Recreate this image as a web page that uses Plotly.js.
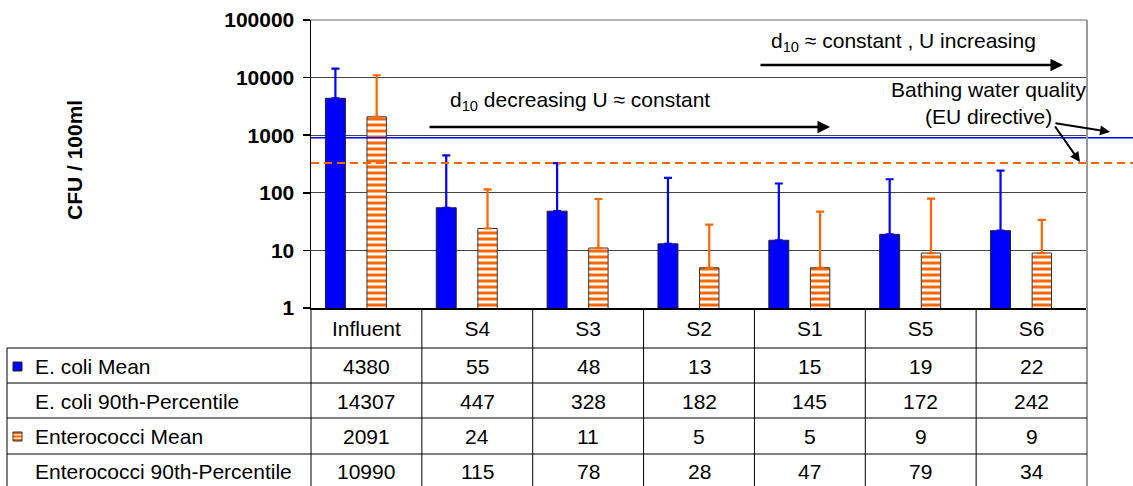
<!DOCTYPE html>
<html>
<head>
<meta charset="utf-8">
<script src="https://cdn.plot.ly/plotly-3.0.1.min.js"></script>
<style>
  html, body { margin: 0; padding: 0; background: #fff; }
  #chart { width: 1133px; height: 486px; }
</style>
</head>
<body>
<div id="chart"></div>
<script>
// sampling sites and measured bacteria counts (CFU / 100ml)
var categories = ['Influent', 'S4', 'S3', 'S2', 'S1', 'S5', 'S6'];
var ecoliMean = [4380, 55, 48, 13, 15, 19, 22];
var ecoliP90 = [14307, 447, 328, 182, 145, 172, 242];
var enteroMean = [2091, 24, 11, 5, 5, 9, 9];
var enteroP90 = [10990, 115, 78, 28, 47, 79, 34];

var yTicks = [1, 10, 100, 1000, 10000, 100000];
var rowLabels = ['E. coli Mean', 'E. coli 90th-Percentile', 'Enterococci Mean', 'Enterococci 90th-Percentile'];
var rowValues = [ecoliMean, ecoliP90, enteroMean, enteroP90];

// bathing water quality limits (EU directive)
var ecoliLimit = 900;
var enteroLimit = 330;

var W = 1133, H = 486;
var FONT = 'Liberation Sans, Arial, sans-serif';
var BLUE = '#0000ff', ORANGE = '#ff6600';

// pixel -> paper helpers for page layout
function px(x) { return x / W; }
function py(y) { return (H - y) / H; }

var plotLeft = 311, plotRight = 1087, plotTop = 20, plotBottom = 308;

var ecoli = {
  type: 'bar',
  name: 'E. coli Mean',
  x: categories,
  y: ecoliMean,
  width: 0.18,
  offset: -0.37,
  marker: { color: BLUE, line: { color: '#222', width: 1 } },
  error_y: {
    type: 'data', symmetric: false,
    array: ecoliP90.map(function (v, i) { return v - ecoliMean[i]; }),
    arrayminus: ecoliMean.map(function () { return 0; }),
    color: BLUE, thickness: 2.2, width: 4
  }
};

var entero = {
  type: 'bar',
  name: 'Enterococci Mean',
  x: categories,
  y: enteroMean,
  width: 0.175,
  offset: 0.005,
  marker: {
    color: ORANGE,
    line: { color: '#333', width: 1 },
    pattern: { shape: '-', fillmode: 'replace', fgcolor: ORANGE, bgcolor: '#ffffff', size: 6, solidity: 0.5 }
  },
  error_y: {
    type: 'data', symmetric: false,
    array: enteroP90.map(function (v, i) { return v - enteroMean[i]; }),
    arrayminus: enteroMean.map(function () { return 0; }),
    color: ORANGE, thickness: 2.2, width: 4
  }
};

var shapes = [];
var annotations = [];

function hline(y0px, x0px, x1px, color, width) {
  shapes.push({ type: 'line', xref: 'paper', yref: 'paper', x0: px(x0px), x1: px(x1px), y0: py(y0px), y1: py(y0px),
    line: { color: color, width: width } });
}
function vline(xpx, y0px, y1px, color, width) {
  shapes.push({ type: 'line', xref: 'paper', yref: 'paper', x0: px(xpx), x1: px(xpx), y0: py(y0px), y1: py(y1px),
    line: { color: color, width: width } });
}

// limit lines, running past the plot to the page edge
shapes.push({ type: 'line', xref: 'paper', yref: 'y', x0: px(plotLeft), x1: 1,
  y0: ecoliLimit, y1: ecoliLimit, line: { color: BLUE, width: 1.5 } });
shapes.push({ type: 'line', xref: 'paper', yref: 'y', x0: px(plotLeft), x1: 1,
  y0: enteroLimit, y1: enteroLimit, line: { color: ORANGE, width: 2, dash: '8px,5px' } });

// plot frame
hline(plotTop, plotLeft, plotRight, '#999', 1.5);
vline(plotRight, plotTop, H, '#999', 2);

// data table grid
var rowLines = [348, 383, 418, 454];
rowLines.forEach(function (y) { hline(y, 7, plotRight, '#000', 1); });
vline(7, 348, H, '#000', 1);
vline(plotLeft, plotBottom, H, '#000', 1);
for (var i = 0; i < categories.length - 1; i++) {
  shapes.push({ type: 'line', xref: 'x', yref: 'paper', x0: i + 0.5, x1: i + 0.5, y0: py(plotBottom), y1: 0,
    line: { color: '#000', width: 1 } });
}

// table cells
var cellFont = { family: FONT, size: 21, color: '#000' };
var rowCenters = [366, 401, 436, 471];
rowLabels.forEach(function (label, r) {
  annotations.push({ xref: 'paper', yref: 'paper', x: px(33), y: py(rowCenters[r]), xanchor: 'left', yanchor: 'middle',
    text: label, showarrow: false, font: cellFont });
  rowValues[r].forEach(function (v, c) {
    annotations.push({ xref: 'x', yref: 'paper', x: categories[c], y: py(rowCenters[r]), xanchor: 'center', yanchor: 'middle',
      text: String(v), showarrow: false, font: cellFont });
  });
});

// legend keys in the table
shapes.push({ type: 'rect', xref: 'paper', yref: 'paper', x0: px(13), x1: px(22), y0: py(371), y1: py(362),
  fillcolor: BLUE, line: { color: '#222', width: 1 } });
shapes.push({ type: 'rect', xref: 'paper', yref: 'paper', x0: px(13), x1: px(22), y0: py(441), y1: py(432),
  fillcolor: ORANGE, line: { color: '#333', width: 1 } });
[434.8, 438.2].forEach(function (y) {
  shapes.push({ type: 'line', xref: 'paper', yref: 'paper', x0: px(13.5), x1: px(21.5), y0: py(y), y1: py(y),
    line: { color: '#fff', width: 1.3 } });
});

// y axis title
annotations.push({ xref: 'paper', yref: 'paper', x: px(75), y: py(160), xanchor: 'center', yanchor: 'middle',
  textangle: -90, showarrow: false,
  text: 'CFU / 100ml', font: { family: FONT, size: 21, color: '#000', weight: 'bold' } });

// process notes with arrows
var noteFont = { family: FONT, size: 21, color: '#000' };
function note(text, xc, yc) {
  annotations.push({ xref: 'paper', yref: 'paper', x: px(xc), y: py(yc), xanchor: 'center', yanchor: 'middle',
    showarrow: false, text: text, font: noteFont });
}
function arrow(x0, y0, x1, y1, w) {
  annotations.push({ xref: 'paper', yref: 'paper', x: px(x1), y: py(y1), ax: x0 - x1, ay: y0 - y1,
    text: '', showarrow: true, arrowhead: 2, arrowsize: 1, arrowwidth: w, arrowcolor: '#000' });
}
note('d<sub>10</sub> decreasing U ≈ constant', 580, 101);
arrow(428, 127, 830, 127, 2.5);
note('d<sub>10</sub> ≈ constant , U increasing', 903, 42);
arrow(759, 65, 1063, 65, 2.5);
note('Bathing water quality', 988, 89);
note('(EU directive)', 988, 117);
arrow(1054, 123, 1110, 132, 2);
arrow(1054, 125, 1080, 162, 2);

var layout = {
  width: W,
  height: H,
  margin: { l: 0, r: 0, t: 0, b: 0, pad: 0 },
  paper_bgcolor: '#fff',
  plot_bgcolor: '#fff',
  showlegend: false,
  font: { family: FONT, color: '#000' },
  xaxis: {
    domain: [px(plotLeft), px(plotRight)],
    type: 'category',
    categoryorder: 'array',
    categoryarray: categories,
    range: [-0.5, categories.length - 0.5],
    showline: true, linecolor: '#000', linewidth: 1.5,
    ticks: '', showgrid: false, zeroline: false,
    ticklabelstandoff: 1,
    tickfont: { family: FONT, size: 21, color: '#000' },
    fixedrange: true
  },
  yaxis: {
    domain: [py(plotBottom), py(plotTop)],
    type: 'log',
    range: [0, 5],
    tickvals: yTicks,
    ticktext: yTicks.map(String),
    ticks: 'outside', ticklen: 7, tickwidth: 1.5, tickcolor: '#000',
    showline: true, linecolor: '#000', linewidth: 1.5,
    showgrid: true, gridcolor: '#444', gridwidth: 1,
    zeroline: false,
    ticklabelstandoff: 4,
    tickfont: { family: FONT, size: 21, color: '#000', weight: 'bold' },
    fixedrange: true
  },
  shapes: shapes,
  annotations: annotations
};

Plotly.newPlot('chart', [ecoli, entero], layout, { staticPlot: true });
</script>
</body>
</html>
